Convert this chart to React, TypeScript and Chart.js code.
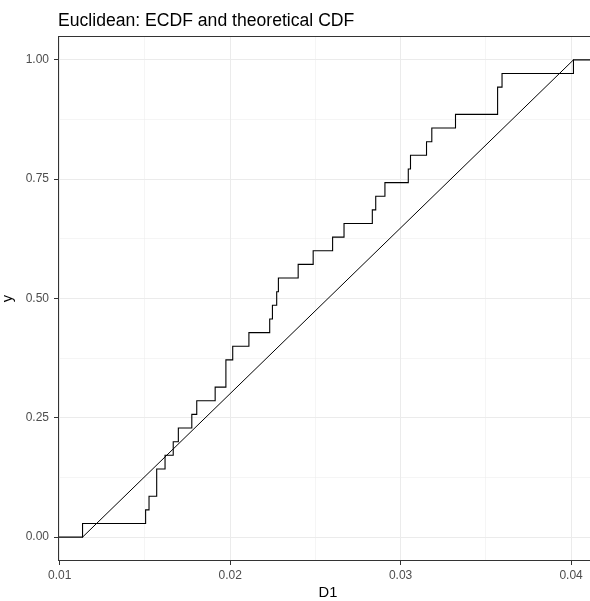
import { useEffect, useRef } from "react";
import { Chart, registerables } from "chart.js";

Chart.register(...registerables);

// Observed D1 distances (sorted sample, n = 35)
const D1_SAMPLE = [
  0.01134, 0.01504, 0.01524, 0.01569, 0.01569, 0.01618, 0.01666, 0.01696,
  0.01775, 0.01804, 0.01912, 0.01975, 0.01975, 0.02015, 0.0211, 0.02232,
  0.02248, 0.02273, 0.02283, 0.02399, 0.02487, 0.02601, 0.02668, 0.02834,
  0.02854, 0.02908, 0.03045, 0.03058, 0.03152, 0.03183, 0.03322, 0.03569,
  0.03569, 0.03595, 0.04014,
];

const X_MAJOR = [0.01, 0.02, 0.03, 0.04];
const X_MINOR = [0.015, 0.025, 0.035];
const Y_MAJOR = [0, 0.25, 0.5, 0.75, 1];
const Y_MINOR = [0.125, 0.375, 0.625, 0.875];

const TITLE = "Euclidean: ECDF and theoretical CDF";
const X_LABEL = "D1";
const Y_LABEL = "y";

const FONT = "'Liberation Sans', Arial, sans-serif";

const sorted = [...D1_SAMPLE].sort((a, b) => a - b);
const n = sorted.length;
const lo = sorted[0];
const hi = sorted[n - 1];
const span = hi - lo;
// 5% expansion on each side of the data range
const X_MIN = lo - 0.05 * span;
const X_MAX = hi + 0.05 * span;
const Y_MIN = -0.05;
const Y_MAX = 1.05;

const ecdfPoints = [
  { x: X_MIN, y: 0 },
  ...sorted.map((v, i) => ({ x: v, y: (i + 1) / n })),
  { x: X_MAX, y: 1 },
];

// Uniform CDF over the sample range
const cdfPoints = [
  { x: lo, y: 0 },
  { x: hi, y: 1 },
];

const near = (list: number[], v: number) => list.some((m) => Math.abs(m - v) < 1e-9);

const panelPlugin = {
  id: "panelDecor",
  afterDatasetsDraw(chart: any) {
    const { ctx, chartArea: a } = chart;
    ctx.save();
    ctx.strokeStyle = "#333333";
    ctx.lineWidth = 1;
    ctx.strokeRect(a.left + 0.5, a.top + 0.5, a.right - a.left, a.bottom - a.top - 1);
    ctx.restore();
  },
  afterDraw(chart: any) {
    const { ctx, chartArea: a } = chart;
    ctx.save();
    ctx.fillStyle = "#000000";
    ctx.textBaseline = "alphabetic";
    ctx.font = `17.6px ${FONT}`;
    ctx.textAlign = "left";
    ctx.fillText(TITLE, a.left, 25.7);

    ctx.font = `14.7px ${FONT}`;
    ctx.textAlign = "center";
    ctx.fillText(X_LABEL, (a.left + a.right) / 2, 597);

    ctx.translate(12, (a.top + a.bottom) / 2);
    ctx.rotate(-Math.PI / 2);
    ctx.fillText(Y_LABEL, 0, 0);
    ctx.restore();
  },
};

export default function App() {
  const canvasRef = useRef<HTMLCanvasElement | null>(null);

  useEffect(() => {
    document.body.style.margin = "0";
    const canvas = canvasRef.current;
    if (!canvas) return;

    const gridColor = "#EBEBEB";

    const chart = new Chart(canvas, {
      type: "line",
      data: {
        datasets: [
          {
            label: "theoretical",
            data: cdfPoints,
            borderColor: "#000000",
            borderWidth: 1,
            pointRadius: 0,
            tension: 0,
          },
          {
            label: "ECDF",
            data: ecdfPoints,
            borderColor: "#000000",
            borderWidth: 1.1,
            pointRadius: 0,
            stepped: "before",
            tension: 0,
          },
        ],
      },
      options: {
        animation: false,
        responsive: false,
        devicePixelRatio: 1,
        events: [],
        layout: { padding: { top: 36, right: 2, bottom: 0, left: 0 } },
        plugins: {
          legend: { display: false },
          tooltip: { enabled: false },
          title: { display: false },
        },
        scales: {
          x: {
            type: "linear",
            min: X_MIN,
            max: X_MAX,
            afterBuildTicks: (scale: any) => {
              scale.ticks = [...X_MAJOR, ...X_MINOR]
                .sort((a, b) => a - b)
                .map((v) => ({ value: v }));
            },
            afterFit: (scale: any) => {
              scale.height = 40;
            },
            border: { display: false },
            grid: {
              drawTicks: true,
              tickLength: 4,
              color: (c: any) => gridColor,
              lineWidth: (c: any) => (c.tick && near(X_MAJOR, c.tick.value) ? 1 : 0.5),
              tickColor: (c: any) =>
                c.tick && near(X_MAJOR, c.tick.value) ? "#333333" : "rgba(0,0,0,0)",
            },
            ticks: {
              autoSkip: false,
              maxRotation: 0,
              padding: 3,
              color: "#4D4D4D",
              font: { family: FONT, size: 12 },
              callback: (v: any) => (near(X_MAJOR, Number(v)) ? Number(v).toFixed(2) : ""),
            },
          },
          y: {
            type: "linear",
            min: Y_MIN,
            max: Y_MAX,
            afterBuildTicks: (scale: any) => {
              scale.ticks = [...Y_MAJOR, ...Y_MINOR]
                .sort((a, b) => a - b)
                .map((v) => ({ value: v }));
            },
            afterFit: (scale: any) => {
              scale.width = 58;
            },
            border: { display: false },
            grid: {
              drawTicks: true,
              tickLength: 4,
              color: (c: any) => gridColor,
              lineWidth: (c: any) => (c.tick && near(Y_MAJOR, c.tick.value) ? 1 : 0.5),
              tickColor: (c: any) =>
                c.tick && near(Y_MAJOR, c.tick.value) ? "#333333" : "rgba(0,0,0,0)",
            },
            ticks: {
              autoSkip: false,
              padding: 5,
              color: "#4D4D4D",
              font: { family: FONT, size: 12 },
              callback: (v: any) => (near(Y_MAJOR, Number(v)) ? Number(v).toFixed(2) : ""),
            },
          },
        },
      },
      plugins: [panelPlugin],
    });

    return () => chart.destroy();
  }, []);

  return (
    <div
      style={{
        position: "fixed",
        left: 0,
        top: 0,
        width: 590,
        height: 601,
        overflow: "hidden",
        background: "#ffffff",
      }}
    >
      <canvas ref={canvasRef} width={600} height={601} style={{ width: 600, height: 601, display: "block" }} />
    </div>
  );
}
